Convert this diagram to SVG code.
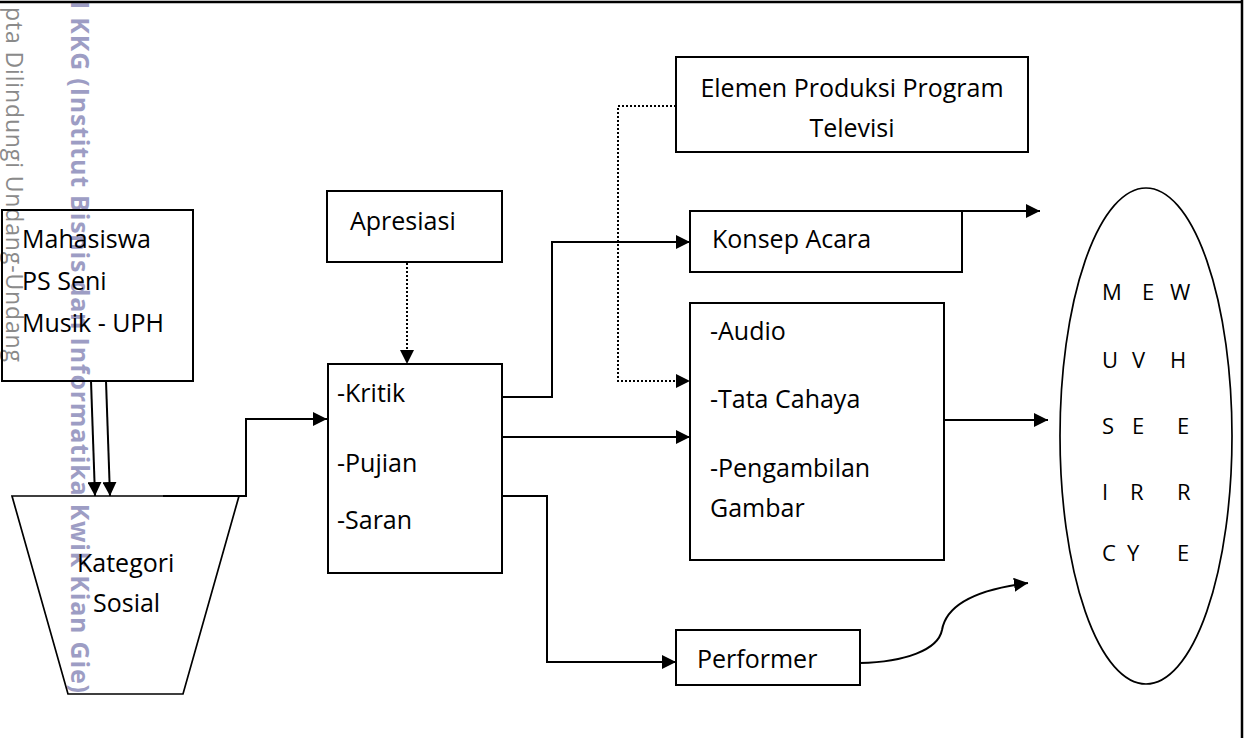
<svg xmlns="http://www.w3.org/2000/svg" width="1246" height="738" viewBox="0 0 1246 738">
<style>
.t{font-family:"Open Sans","Noto Sans","Liberation Sans",sans-serif;font-size:25px;fill:#000}
.e{font-family:"Open Sans","Noto Sans","Liberation Sans",sans-serif;font-size:22px;fill:#000}
.box{fill:none;stroke:#000;stroke-width:2}
.shape{fill:none;stroke:#000;stroke-width:1.7}
.c{fill:none;stroke:#000;stroke-width:2}
.d{fill:none;stroke:#000;stroke-width:2;stroke-dasharray:2 2}
.wm1{font-family:"Open Sans","Noto Sans",sans-serif;font-size:23px;fill:#8a8a8a}
.wm2{font-family:"Open Sans","Noto Sans",sans-serif;font-size:25px;font-weight:bold;fill:#9d9dc4}
</style>
<defs>
<marker id="ah" markerUnits="userSpaceOnUse" markerWidth="15" markerHeight="14" refX="14" refY="7" orient="auto">
<path d="M0,0 L14,7 L0,14 z" fill="#000"/>
</marker>
</defs>
<rect width="1246" height="738" fill="#fff"/>
<g id="watermark">
<text class="wm1" transform="translate(6,7) rotate(90)" textLength="355" lengthAdjust="spacing">pta Dilindungi Undang-Undang</text>
<text class="wm2" transform="translate(71,1) rotate(90)" textLength="692" lengthAdjust="spacing">I KKG (Institut Bisnis dan Informatika Kwik Kian Gie)</text>
</g>
<g id="frame">
<line x1="0" y1="2" x2="1243" y2="2" stroke="#000" stroke-width="2.5"/>
<line x1="1242" y1="0" x2="1242" y2="738" stroke="#000" stroke-width="2.5"/>
</g>
<g id="connectors">
<line class="c" x1="91" y1="381" x2="95" y2="496" marker-end="url(#ah)"/>
<line class="c" x1="106" y1="381" x2="110" y2="496" marker-end="url(#ah)"/>
<path class="c" d="M163,496 H246 V419 H327" marker-end="url(#ah)"/>
<path class="d" d="M407,263 V364" marker-end="url(#ah)"/>
<path class="c" d="M502,397 H552 V242 H690" marker-end="url(#ah)"/>
<path class="c" d="M502,437 H690" marker-end="url(#ah)"/>
<path class="c" d="M502,496 H547 V662 H676" marker-end="url(#ah)"/>
<path class="d" d="M676,106 H618 V381 H690" marker-end="url(#ah)"/>
<path class="c" d="M884,211 H1040" marker-end="url(#ah)"/>
<path class="c" d="M944,420 H1048" marker-end="url(#ah)"/>
<path class="c" d="M860,663 C905,662 938,650 942,630 C946,606 972,590 1028,583" marker-end="url(#ah)"/>
</g>
<g id="mahasiswa">
<rect class="box" x="2" y="210" width="191" height="171"/>
<text class="t" x="22" y="248">Mahasiswa</text>
<text class="t" x="22" y="290">PS Seni</text>
<text class="t" x="22" y="332">Musik - UPH</text>
</g>
<g id="kategori">
<polygon class="shape" points="12,496 239,496 183,694 68,694"/>
<text class="t" x="77" y="572">Kategori</text>
<text class="t" x="93" y="612">Sosial</text>
</g>
<g id="apresiasi">
<rect class="box" x="327" y="191" width="175" height="71"/>
<text class="t" x="350" y="230">Apresiasi</text>
</g>
<g id="kritik">
<rect class="box" x="328" y="364" width="174" height="209"/>
<text class="t" x="337" y="402">-Kritik</text>
<text class="t" x="337" y="472">-Pujian</text>
<text class="t" x="337" y="529">-Saran</text>
</g>
<g id="elemen">
<rect class="box" x="676" y="57" width="352" height="95"/>
<text class="t" x="852" y="97" text-anchor="middle">Elemen Produksi Program</text>
<text class="t" x="852" y="137" text-anchor="middle">Televisi</text>
</g>
<g id="konsep">
<rect class="box" x="690" y="211" width="272" height="61"/>
<text class="t" x="712" y="248">Konsep Acara</text>
</g>
<g id="audio">
<rect class="box" x="690" y="303" width="254" height="257"/>
<text class="t" x="710" y="340">-Audio</text>
<text class="t" x="710" y="408">-Tata Cahaya</text>
<text class="t" x="710" y="477">-Pengambilan</text>
<text class="t" x="710" y="517">Gambar</text>
</g>
<g id="performer">
<rect class="box" x="676" y="630" width="184" height="55"/>
<text class="t" x="697" y="668">Performer</text>
</g>
<g id="viewer">
<ellipse class="shape" cx="1146" cy="436" rx="86" ry="248"/>
<text class="e"><tspan x="1102" y="300">M</tspan> <tspan x="1142" y="300">E</tspan> <tspan x="1170" y="300">W</tspan></text>
<text class="e"><tspan x="1102" y="368">U</tspan> <tspan x="1132" y="368">V</tspan> <tspan x="1170" y="368">H</tspan></text>
<text class="e"><tspan x="1102" y="434">S</tspan> <tspan x="1132" y="434">E</tspan> <tspan x="1177" y="434">E</tspan></text>
<text class="e"><tspan x="1102" y="500">I</tspan> <tspan x="1130" y="500">R</tspan> <tspan x="1177" y="500">R</tspan></text>
<text class="e"><tspan x="1102" y="561">C</tspan> <tspan x="1127" y="561">Y</tspan> <tspan x="1177" y="561">E</tspan></text>
</g>
</svg>
